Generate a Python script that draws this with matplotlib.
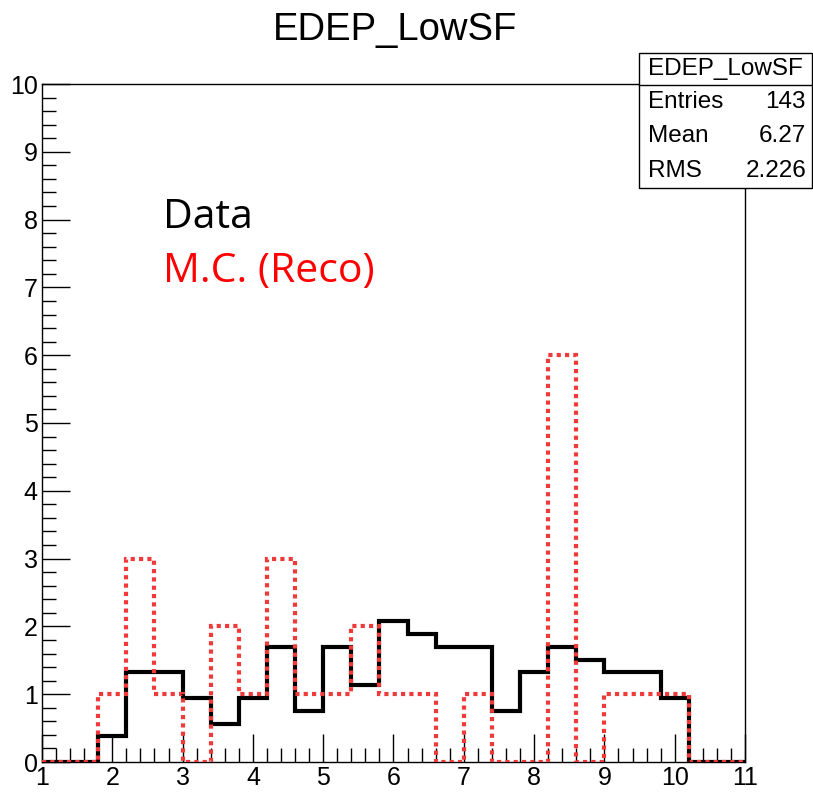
import numpy as np
import matplotlib
matplotlib.use("Agg")
import matplotlib.pyplot as plt
from matplotlib.ticker import MultipleLocator

# bin edges: 25 bins of 0.4 between 1 and 11
edges = np.round(np.arange(1.0, 11.01, 0.4), 2)

# data, raw counts per bin (143 entries), drawn normalised to the M.C. total
data_counts = np.array([0, 0, 2, 7, 7, 5, 3, 5, 9, 4, 9, 6, 11, 10, 9, 9,
                        4, 7, 9, 8, 7, 7, 5, 0, 0])
# M.C. (Reco) counts per bin
mc_counts = np.array([0, 0, 1, 3, 1, 0, 2, 1, 3, 1, 1, 2, 1, 1, 0, 1,
                      0, 0, 6, 0, 1, 1, 1, 0, 0])

stats_name = "EDEP_LowSF"
stats_rows = [("Entries", "143"), ("Mean", "6.27"), ("RMS", "2.226")]

data_scaled = data_counts * mc_counts.sum() / data_counts.sum()

W, H = 813, 792
fig = plt.figure(figsize=(W / 100, H / 100), dpi=100)
ax = fig.add_axes([42 / W, 1 - 762 / H, (745 - 42) / W, (762 - 84) / H])

ax.stairs(data_scaled, edges, baseline=None, color="black", linewidth=3, zorder=2)
ax.stairs(mc_counts, edges, baseline=None, color="#f03a3a", linewidth=3,
          linestyle=(0, (1, 1)), zorder=3)

ax.set_xlim(1, 11)
ax.set_ylim(0, 10)
ax.xaxis.set_major_locator(MultipleLocator(1))
ax.xaxis.set_minor_locator(MultipleLocator(0.2))
ax.yaxis.set_major_locator(MultipleLocator(1))
ax.yaxis.set_minor_locator(MultipleLocator(0.2))
ax.tick_params(which="both", direction="in", top=False, right=False,
               labelsize=18, width=1)
ax.tick_params(axis="x", which="major", length=20, pad=3)
ax.tick_params(axis="x", which="minor", length=10)
ax.tick_params(axis="y", which="major", length=20, pad=3)
ax.tick_params(axis="y", which="minor", length=10)
for lab in ax.get_xticklabels() + ax.get_yticklabels():
    lab.set_family("Liberation Sans")
for s in ax.spines.values():
    s.set_linewidth(1)

fig.text(395 / W, 1 - 30 / H, "EDEP_LowSF", ha="center", va="center",
         fontsize=27.5, family="Liberation Sans")

ax.text(163 / W, 1 - 228 / H, "Data", transform=fig.transFigure, ha="left",
        va="baseline", fontsize=29.5, family="Open Sans", color="black")
ax.text(163 / W, 1 - 282 / H, "M.C. (Reco)", transform=fig.transFigure, ha="left",
        va="baseline", fontsize=29.5, family="Open Sans", color="#ff0000")

# stats box
bx0, bx1, by0, by1, bsep = 639, 812, 53, 188, 85
box = plt.Rectangle((bx0 / W, 1 - by1 / H), (bx1 - bx0) / W, (by1 - by0) / H,
                    transform=fig.transFigure, facecolor="white", edgecolor="black",
                    linewidth=1, zorder=5)
fig.patches.append(box)
fig.add_artist(plt.Line2D([bx0 / W, bx1 / W], [1 - bsep / H, 1 - bsep / H],
                          color="black", linewidth=1, zorder=6))
fig.text((bx0 + bx1) / 2 / W, 1 - (by0 + bsep) / 2 / H, stats_name, ha="center",
         va="center", fontsize=17.5, family="Liberation Sans", zorder=7)
row_h = (by1 - bsep) / len(stats_rows)
for i, (k, v) in enumerate(stats_rows):
    yc = 1 - (bsep + row_h * (i + 0.5)) / H
    fig.text((bx0 + 9) / W, yc, k, ha="left", va="center", fontsize=17.5,
             family="Liberation Sans", zorder=7)
    fig.text((bx1 - 6) / W, yc, v, ha="right", va="center", fontsize=17.5,
             family="Liberation Sans", zorder=7)

fig.savefig("out.png", dpi=100)
